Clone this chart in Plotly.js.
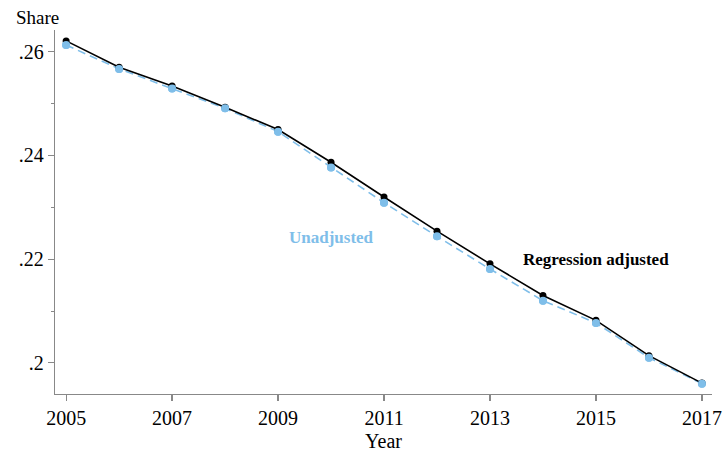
<!DOCTYPE html>
<html>
<head>
<meta charset="utf-8">
<script src="https://cdn.plot.ly/plotly-3.0.1.min.js"></script>
<style>html,body{margin:0;padding:0;background:#fff;}#chart{width:723px;height:452px;}</style>
</head>
<body>
<div id="chart"></div>
<script>
const years = [2005, 2006, 2007, 2008, 2009, 2010, 2011, 2012, 2013, 2014, 2015, 2016, 2017];
const regressionAdjusted = [0.2621, 0.2570, 0.2534, 0.2493, 0.2450, 0.2387, 0.2320, 0.2254, 0.2191, 0.2130, 0.2082, 0.2014, 0.1961];
const unadjusted = [0.2613, 0.2567, 0.2529, 0.2491, 0.2446, 0.2377, 0.2309, 0.2244, 0.2181, 0.2120, 0.2077, 0.2010, 0.1960];
const xTickVals = [2005, 2007, 2009, 2011, 2013, 2015, 2017];
const yTickVals = [0.2, 0.22, 0.24, 0.26];
const yTickText = ['.2', '.22', '.24', '.26'];

const blue = '#7fbee9';
const serif = '"Liberation Serif", "Times New Roman", serif';

const traces = [
  {x: years, y: unadjusted, type: 'scatter', mode: 'lines+markers', name: 'Unadjusted',
   line: {color: blue, width: 1.6, dash: '8px,5px'}, marker: {color: blue, size: 8}},
  {x: years, y: regressionAdjusted, type: 'scatter', mode: 'lines+markers', name: 'Regression adjusted',
   line: {color: '#000', width: 1.6}, marker: {color: '#000', size: 7}},
  {x: years, y: unadjusted, type: 'scatter', mode: 'markers', showlegend: false,
   marker: {color: blue, size: 8}, hoverinfo: 'skip'}
];

const layout = {
  width: 723, height: 452,
  margin: {l: 55, r: 11, t: 30, b: 58},
  paper_bgcolor: '#fff', plot_bgcolor: '#fff',
  showlegend: false,
  font: {family: serif, color: '#000', size: 20},
  xaxis: {
    range: [2004.79, 2017.19], tickvals: xTickVals, ticktext: xTickVals.map(String),
    showgrid: false, zeroline: false, showline: true, linecolor: '#888', linewidth: 1.3,
    ticks: 'outside', ticklen: 6, tickcolor: '#888', tickwidth: 1.2,
    tickfont: {family: serif, size: 20, color: '#000'},
    title: {text: 'Year', font: {family: serif, size: 20, color: '#000'}, standoff: 6}
  },
  yaxis: {
    range: [0.194, 0.2642], tickvals: yTickVals, ticktext: yTickText,
    showgrid: false, zeroline: false, showline: true, linecolor: '#888', linewidth: 1.3,
    ticks: 'outside', ticklen: 6, tickcolor: '#888', tickwidth: 1.2,
    tickfont: {family: serif, size: 20, color: '#000'},
    minor: {tickvals: [0.21, 0.23, 0.25], ticks: 'outside', ticklen: 3, tickcolor: '#888', tickwidth: 1}
  },
  annotations: [
    {xref: 'paper', yref: 'paper', x: -0.062, y: 1.0, yshift: 13, xanchor: 'left', yanchor: 'middle',
     text: 'Share', showarrow: false, font: {family: serif, size: 19, color: '#000'}},
    {xref: 'x', yref: 'y', x: 2010.0, y: 0.22425, xanchor: 'center', yanchor: 'middle',
     text: '<b>Unadjusted</b>', showarrow: false, font: {family: serif, size: 17, color: blue}},
    {xref: 'x', yref: 'y', x: 2015.0, y: 0.2200, xanchor: 'center', yanchor: 'middle',
     text: '<b>Regression adjusted</b>', showarrow: false, font: {family: serif, size: 17, color: '#000'}}
  ]
};

Plotly.newPlot('chart', traces, layout, {displayModeBar: false, staticPlot: true});
</script>
</body>
</html>
